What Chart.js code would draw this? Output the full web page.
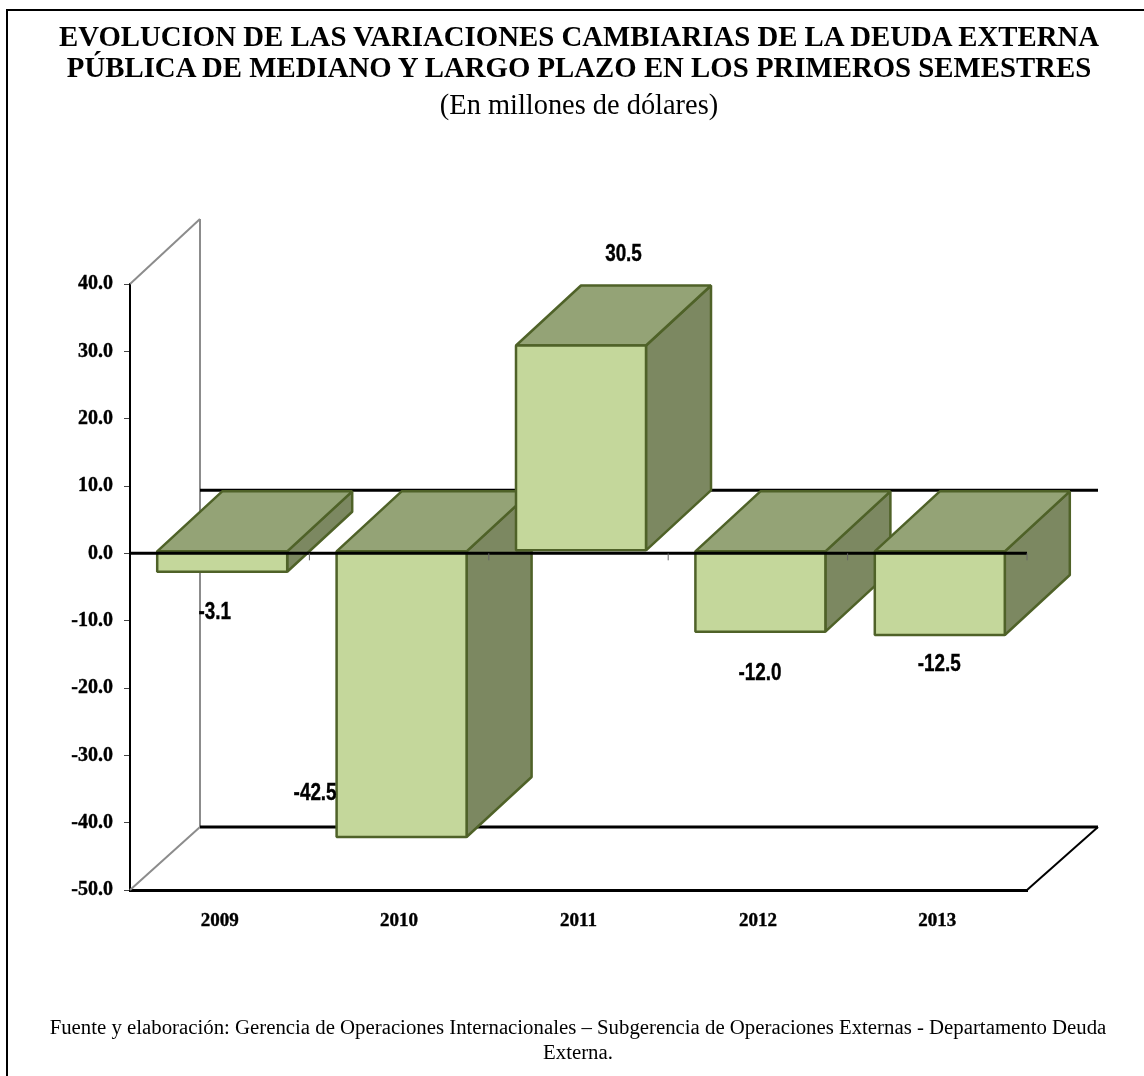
<!DOCTYPE html>
<html>
<head>
<meta charset="utf-8">
<script src="https://cdn.jsdelivr.net/npm/chart.js@4"></script>
<style>
  html, body { margin: 0; padding: 0; background: #fff; }
  #page { position: relative; width: 1144px; height: 1076px; overflow: hidden; font-family: "Liberation Serif", serif; color: #000; }
  #frame { position: absolute; left: 6px; top: 9px; width: 1138px; height: 1067px; border-left: 2px solid #000; border-top: 2px solid #000; box-sizing: border-box; }
  canvas { position: absolute; left: 0; top: 0; }
  .txt { position: absolute; left: 7px; width: 1144px; text-align: center; white-space: nowrap; }
  #t1, #t2 { font-weight: bold; font-size: 28.8px; line-height: 30px; }
  #t1 { top: 21px; }
  #t2 { top: 52px; }
  #t3 { top: 90px; font-size: 28.4px; line-height: 30px; }
  #s1, #s2 { font-size: 20.8px; line-height: 23px; left: 6px; }
  #s1 { top: 1015px; }
  #s2 { top: 1040px; }
</style>
</head>
<body>
<div id="page">
  <div id="frame"></div>
  <canvas id="chart" width="1144" height="1076"></canvas>
  <div class="txt" id="t1">EVOLUCION DE LAS VARIACIONES CAMBIARIAS DE LA DEUDA EXTERNA</div>
  <div class="txt" id="t2">PÚBLICA DE MEDIANO Y LARGO PLAZO EN LOS PRIMEROS SEMESTRES</div>
  <div class="txt" id="t3">(En millones de dólares)</div>
  <div class="txt" id="s1">Fuente y elaboración: Gerencia de Operaciones Internacionales – Subgerencia de Operaciones Externas - Departamento Deuda</div>
  <div class="txt" id="s2">Externa.</div>
</div>
<script>
const years = ['2009', '2010', '2011', '2012', '2013'];
const variaciones = [-3.1, -42.5, 30.5, -12.0, -12.5];
const yMin = -50;
const yMax = 40;
const yStep = 10;

// where each value label sits relative to the end of its bar
const labelOffsets = [[-5, 38], [-84, -46], [45, -93], [2, 40], [2, 27]];

// 3d look
const barDepth = [65, -60];
const wallDepth = [70, -63];
const barShift = [2.5, -2.5];

function face(ctx, pts, fill, stroke, width) {
    ctx.beginPath();
    ctx.moveTo(pts[0][0], pts[0][1]);
    for (let p of pts.slice(1)) ctx.lineTo(p[0], p[1]);
    ctx.closePath();
    ctx.fillStyle = fill;
    ctx.fill();
    ctx.strokeStyle = stroke;
    ctx.lineWidth = width;
    ctx.lineJoin = 'bevel';
    ctx.stroke();
}

function line(ctx, x1, y1, x2, y2, color, width) {
    ctx.beginPath();
    ctx.moveTo(x1, y1);
    ctx.lineTo(x2, y2);
    ctx.strokeStyle = color;
    ctx.lineWidth = width;
    ctx.stroke();
}

const box3d = {
    id: 'box3d',
    // walls behind the bars
    beforeDatasetsDraw(chart) {
        const { ctx, chartArea: a, scales: { y } } = chart;
        const zero = y.getPixelForValue(0);
        const [wx, wy] = wallDepth;
        ctx.save();
        line(ctx, a.left, a.top, a.left + wx, a.top + wy - 2, '#8c8c8c', 2);
        line(ctx, a.left + wx, a.top + wy - 2, a.left + wx, a.bottom + wy, '#8c8c8c', 2);
        line(ctx, a.left, a.bottom, a.left + wx, a.bottom + wy, '#8c8c8c', 2);
        line(ctx, a.left + wx, zero + wy, a.right + wx + 1, zero + wy, '#000', 3);
        line(ctx, a.left + wx, a.bottom + wy, a.right + wx + 1, a.bottom + wy, '#000', 3);
        line(ctx, a.right, a.bottom, a.right + wx + 1, a.bottom + wy, '#000', 2);
        ctx.restore();
    },
    afterDatasetsDraw(chart) {
        const { ctx, chartArea: a, scales: { x, y } } = chart;
        const zero = y.getPixelForValue(0);
        const bars = chart.getDatasetMeta(0).data;
        const [dx, dy] = barDepth;
        const edge = '#4f6228';

        // side, top and front of each bar, left to right
        ctx.save();
        ctx.translate(barShift[0], barShift[1]);
        bars.forEach((bar) => {
            const l = bar.x - bar.width / 2;
            const r = bar.x + bar.width / 2;
            const top = Math.min(bar.y, bar.base);
            const bot = Math.max(bar.y, bar.base);
            face(ctx, [[r, top], [r + dx, top + dy], [r + dx, bot + dy], [r, bot]], '#7c8861', edge, 2.5);
            face(ctx, [[l, top], [l + dx, top + dy], [r + dx, top + dy], [r, top]], '#94a376', edge, 2.5);
            face(ctx, [[l, top], [r, top], [r, bot], [l, bot]], '#c4d79b', edge, 2.5);
        });
        ctx.restore();

        ctx.save();
        // zero line and its ticks run over the bars
        line(ctx, a.left, zero, a.right, zero, '#000', 3);
        const step = x.getPixelForValue(1) - x.getPixelForValue(0);
        years.forEach((yr, i) => {
            const tx = x.getPixelForValue(i) + step / 2;
            line(ctx, tx, zero, tx, zero + 7, '#666', 1);
        });

        // value labels, squeezed like the narrow font of the original
        ctx.fillStyle = '#000';
        ctx.strokeStyle = '#000';
        ctx.lineWidth = 0.4;
        ctx.font = 'bold 23px "Liberation Sans", sans-serif';
        ctx.textAlign = 'center';
        ctx.textBaseline = 'middle';
        bars.forEach((bar, i) => {
            ctx.save();
            ctx.translate(bar.x + labelOffsets[i][0], bar.y + labelOffsets[i][1]);
            ctx.scale(0.82, 1);
            ctx.fillText(variaciones[i].toFixed(1), 0, 0);
            ctx.strokeText(variaciones[i].toFixed(1), 0, 0);
            ctx.restore();
        });
        ctx.restore();
    }
};

new Chart(document.getElementById('chart').getContext('2d'), {
    type: 'bar',
    data: {
        labels: years,
        datasets: [{
            data: variaciones,
            backgroundColor: 'rgba(0, 0, 0, 0)',
            borderWidth: 0,
            barThickness: 130
        }]
    },
    options: {
        responsive: false,
        animation: false,
        layout: { padding: { top: 284, right: 117, left: 0, bottom: 0 } },
        plugins: { legend: { display: false }, title: { display: false }, tooltip: { enabled: false } },
        scales: {
            x: {
                afterFit(scale) { scale.height = 186; },
                border: { color: '#000', width: 3 },
                grid: { display: false, drawOnChartArea: false, tickLength: 0 },
                ticks: {
                    padding: 20,
                    maxRotation: 0,
                    color: '#000',
                    textStrokeColor: '#000',
                    textStrokeWidth: 0.4,
                    font: { family: '"Liberation Serif", serif', weight: 'bold', size: 19 }
                }
            },
            y: {
                min: yMin,
                max: yMax,
                afterFit(scale) { scale.width = 130; },
                border: { color: '#000', width: 2 },
                grid: { drawOnChartArea: false, color: '#444', tickLength: 6 },
                ticks: {
                    stepSize: yStep,
                    padding: 11,
                    color: '#000',
                    textStrokeColor: '#000',
                    textStrokeWidth: 0.4,
                    font: { family: '"Liberation Serif", serif', weight: 'bold', size: 20 },
                    callback: (v) => v.toFixed(1)
                }
            }
        }
    },
    plugins: [box3d]
});
</script>
</body>
</html>
